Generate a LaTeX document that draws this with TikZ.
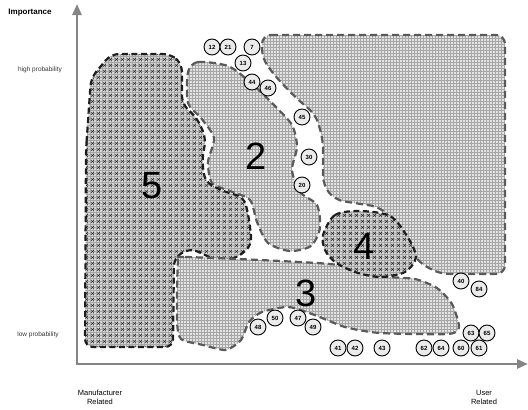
\documentclass[tikz,border=0pt]{standalone}
\usepackage{fontspec}
\setmainfont{Liberation Sans}
\usetikzlibrary{arrows.meta,patterns}
\pgfdeclarepatternformonly{xmarks}{\pgfqpoint{0pt}{0pt}}{\pgfqpoint{6pt}{6pt}}{\pgfqpoint{6pt}{6pt}}{%
 \pgfsetlinewidth{0.5pt}%
 \pgfpathmoveto{\pgfqpoint{1.5pt}{1.5pt}}\pgfpathlineto{\pgfqpoint{4.5pt}{4.5pt}}%
 \pgfpathmoveto{\pgfqpoint{1.5pt}{4.5pt}}\pgfpathlineto{\pgfqpoint{4.5pt}{1.5pt}}%
 \pgfusepath{stroke}}
\definecolor{axisgray}{HTML}{858585}
\definecolor{bordergray}{HTML}{5A5A5A}
\definecolor{borderdark}{HTML}{1E1E1E}
\definecolor{circfill}{HTML}{EBEBEB}
\tikzset{
  circ/.style={circle,draw=black,fill=circfill,line width=0.9pt,minimum size=16pt,inner sep=0pt,font=\fontsize{6}{6}\selectfont\bfseries},
  lightborder/.style={draw=bordergray,line width=2.2pt,dash pattern=on 7pt off 4pt},
  darkborder/.style={draw=borderdark,line width=2.2pt,dash pattern=on 6pt off 3.5pt},
  lightfill/.style={fill=gray!22},
  darkfill/.style={fill=gray!32},
  gridover/.style={pattern=grid,pattern color=gray!70},
  xover/.style={pattern=xmarks,pattern color=gray!30!black},
  axisline/.style={draw=axisgray,line width=2.6pt,{Triangle[length=11pt,width=9pt]}-{Triangle[length=11pt,width=9pt]}},
  bignum/.style={font=\fontsize{38}{38}\selectfont},
  lbl/.style={font=\fontsize{6.5}{7}\selectfont,text=black!80,align=center},
  axlbl/.style={font=\fontsize{7.5}{9}\selectfont,align=center}
}
\begin{document}
\begin{tikzpicture}[x=1pt,y=-1pt]
\useasboundingbox (0,0) rectangle (528,410);
% region 1
\def\regone{(262,35) -- (505,35) -- (505,274) -- (440,274) -- (418,262) -- (400,228) -- (380,207) -- (335,200) -- (323,185) -- (323,140) -- (316,115) -- (295,97) -- (275,76) -- (262,58) -- cycle}
\fill[lightfill,rounded corners=9pt] \regone;
\fill[gridover,rounded corners=9pt] \regone;
\draw[lightborder,rounded corners=9pt] \regone;
% region 2
\def\regtwo{plot[smooth cycle,tension=0.45] coordinates {(188,72) (198,62) (228,66) (250,82) (273,104) (292,125) (297,147) (292,170) (300,192) (317,205) (320,228) (311,246) (290,251) (268,243) (257,222) (250,200) (230,191) (212,183) (208,162) (214,138) (201,118) (188,103)}}
\fill[lightfill] \regtwo;
\fill[gridover] \regtwo;
\draw[lightborder] \regtwo;
% region 5
\def\regfive{(86,150) -- (91,78) -- (111,54) -- (171,54) -- (182,64) -- (182,104) -- (197,118) -- (206,138) -- (202,160) -- (205,182) -- (225,192) -- (244,197) -- (249,218) -- (252,245) -- (237,258) -- (218,261) -- (190,248) -- (174,258) -- (173,347) -- (85,347) -- cycle}
\fill[darkfill,rounded corners=8pt] \regfive;
\fill[gridover,rounded corners=8pt] \regfive;
\fill[xover,rounded corners=8pt] \regfive;
\draw[darkborder,rounded corners=8pt] \regfive;
% region 3
\def\regthree{plot[smooth cycle,tension=0.4] coordinates {(178,262) (185,257) (330,264) (380,276) (415,279) (437,288) (452,304) (459,327) (448,334) (380,333) (345,327) (312,314) (288,307) (262,312) (249,322) (241,340) (226,350) (203,345) (181,339) (177,320)}}
\fill[lightfill] \regthree;
\fill[gridover] \regthree;
\draw[lightborder] \regthree;
% region 4
\def\regfour{plot[smooth cycle,tension=0.5] coordinates {(323,235) (335,215) (360,211) (390,216) (407,236) (416,257) (405,272) (380,277) (355,272) (335,262) (325,250)}}
\fill[darkfill] \regfour;
\fill[gridover] \regfour;
\fill[xover] \regfour;
\draw[darkborder] \regfour;
% region numbers
\node[bignum] (n5) at (152,186) {5};
\node[bignum] (n2) at (256,156) {2};
\node[bignum] (n3) at (306,293) {3};
\node[bignum] (n4) at (364,246) {4};
% axes
\coordinate (ytip) at (77,4);
\coordinate (org) at (77,364);
\coordinate (xtip) at (528,364);
\draw[axisline] (ytip) -- (org) -- (xtip);
% axis labels
\node[font=\fontsize{8}{9}\selectfont\bfseries] (imp) at (30,13) {Importance};
\node[lbl] (hp) at (40,70) {high probability};
\node[lbl] (lp) at (38,335) {low probability};
\node[axlbl] (mr) at (100,397) {Manufacturer\\Related};
\node[axlbl] (ur) at (484,397) {User\\Related};
% circles
\node[circ] (c12) at (212,47) {12};
\node[circ] (c21) at (228,47) {21};
\node[circ] (c7) at (252,47) {7};
\node[circ] (c13) at (243,63) {13};
\node[circ] (c44) at (252,82) {44};
\node[circ] (c46) at (268,88) {46};
\node[circ] (c45) at (302,117) {45};
\node[circ] (c30) at (309,157) {30};
\node[circ] (c20) at (302,185) {20};
\node[circ] (c48) at (258,327) {48};
\node[circ] (c50) at (275,318) {50};
\node[circ] (c47) at (298,318) {47};
\node[circ] (c49) at (313,327) {49};
\node[circ] (c41) at (338,348) {41};
\node[circ] (c42) at (355,348) {42};
\node[circ] (c43) at (382,348) {43};
\node[circ] (c62) at (424,348) {62};
\node[circ] (c64) at (441,348) {64};
\node[circ] (c60) at (461,348) {60};
\node[circ] (c61) at (479,348) {61};
\node[circ] (c63) at (471,333) {63};
\node[circ] (c65) at (487,333) {65};
\node[circ] (c40) at (461,281) {40};
\node[circ] (c84) at (479,289) {84};
\end{tikzpicture}
\end{document}
